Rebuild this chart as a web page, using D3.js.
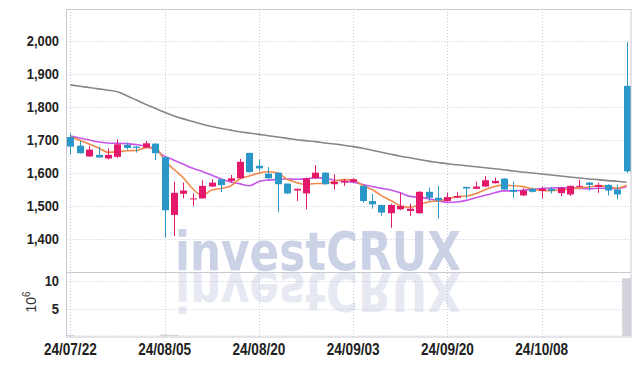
<!DOCTYPE html>
<html>
<head>
<meta charset="utf-8">
<script src="https://cdn.jsdelivr.net/npm/d3@7"></script>
<style>
  html, body { margin: 0; padding: 0; background: #fff; }
  svg { display: block; }
  .tick-label { font-family: "Liberation Sans", Arial, sans-serif; font-weight: bold; fill: #222; }
</style>
</head>
<body>
<div id="chart"></div>
<script>
const width = 639;
const height = 366;

// trading days, 24/07/22 .. 24/10/22
const dates = [
  "24/07/22","24/07/23","24/07/24","24/07/25","24/07/26","24/07/29","24/07/30","24/07/31","24/08/01","24/08/02",
  "24/08/05","24/08/06","24/08/07","24/08/08","24/08/09","24/08/12","24/08/13","24/08/14","24/08/16","24/08/19",
  "24/08/20","24/08/21","24/08/22","24/08/23","24/08/26","24/08/27","24/08/28","24/08/29","24/08/30","24/09/02",
  "24/09/03","24/09/04","24/09/05","24/09/06","24/09/09","24/09/10","24/09/11","24/09/12","24/09/13","24/09/19",
  "24/09/20","24/09/23","24/09/24","24/09/25","24/09/26","24/09/27","24/09/30","24/10/02","24/10/04","24/10/07",
  "24/10/08","24/10/10","24/10/11","24/10/14","24/10/15","24/10/16","24/10/17","24/10/18","24/10/21","24/10/22"
];
const openP = [
  1709,1683,1650,1655,1644,1649,1685,1680,1677,1689,
  1648,1473,1537,1520,1523,1559,1581,1576,1584,1661,
  1622,1598,1601,1568,1547,1538,1584,1601,1566,1571,
  1573,1561,1515,1503,1478,1490,1485,1478,1543,1525,
  1515,1525,1558,1552,1559,1569,1583,1549,1532,1552,
  1546,1552,1539,1535,1558,1571,1558,1564,1550,1864
];
const highP = [
  1720,1697,1682,1680,1675,1702,1692,1682,1697,1690,
  1650,1574,1571,1538,1578,1581,1582,1594,1643,1661,
  1641,1618,1602,1568,1553,1586,1624,1602,1596,1582,
  1584,1562,1537,1504,1507,1540,1507,1545,1556,1561,
  1540,1542,1558,1574,1591,1586,1584,1574,1553,1556,
  1558,1558,1558,1562,1579,1573,1571,1566,1564,1996
];
const lowP = [
  1656,1659,1650,1647,1641,1646,1671,1662,1676,1639,
  1405,1409,1523,1500,1522,1557,1542,1571,1583,1601,
  1606,1583,1482,1536,1515,1490,1582,1565,1550,1561,
  1572,1510,1492,1470,1434,1488,1470,1477,1515,1462,
  1513,1524,1523,1551,1558,1568,1549,1525,1530,1541,
  1523,1538,1530,1530,1557,1547,1540,1532,1520,1600
];
const closeP = [
  1680,1660,1671,1647,1655,1687,1676,1676,1690,1660,
  1487,1540,1547,1523,1561,1571,1563,1584,1634,1603,
  1614,1584,1566,1538,1552,1584,1601,1566,1573,1576,
  1581,1515,1505,1480,1503,1500,1492,1543,1525,1517,
  1527,1530,1553,1559,1578,1576,1550,1543,1547,1543,
  1552,1546,1555,1561,1561,1564,1564,1547,1535,1605
];
// volume, millions
const volume = [
  0.2,0.05,0.04,0.04,0.03,0.05,0.03,0.03,0.03,0.05,
  0.25,0.2,0.06,0.04,0.05,0.04,0.04,0.03,0.05,0.06,
  0.04,0.04,0.05,0.04,0.03,0.05,0.04,0.04,0.03,0.03,
  0.03,0.05,0.04,0.05,0.05,0.03,0.03,0.05,0.04,0.04,
  0.03,0.03,0.03,0.03,0.04,0.03,0.04,0.03,0.03,0.03,
  0.03,0.03,0.03,0.04,0.03,0.03,0.03,0.03,0.04,10.55
];
const ma5 = [
  1710,1699,1688,1676,1662.6,1664,1667.2,1668.2,1676.8,1677.8,
  1637.8,1610.6,1584.8,1551.4,1531.6,1548.4,1553,1560.4,1582.6,1591,
  1599.6,1603.8,1600.2,1581,1570.8,1564.8,1568.2,1568.2,1575.2,1580,
  1579.4,1562.2,1550,1531.4,1516.8,1500.6,1496,1503.6,1512.6,1515.4,
  1520.8,1528.4,1530.4,1537.2,1549.4,1559.2,1563.2,1561.2,1558.8,1551.8,
  1547,1546.2,1548.6,1551.4,1555,1557.4,1561,1559.4,1554.2,1563
];
const ma10 = [
  1712,1706,1700,1694,1691,1690,1689,1686,1681,1670.2,
  1650.9,1638.9,1626.5,1614.1,1604.7,1593.1,1581.8,1572.6,1567,1561.3,
  1574,1578.4,1580.3,1581.8,1580.9,1582.2,1586,1584.2,1578.1,1575.4,
  1572.1,1565.2,1559.1,1553.3,1548.4,1540,1529.1,1526.8,1522,1516.1,
  1510.7,1512.2,1517,1524.9,1532.4,1540,1545.8,1545.8,1548,1550.6,
  1553.1,1554.7,1554.9,1555.1,1553.4,1552.2,1553.6,1554,1552.8,1559
];
const maLong = [
  1867,1863,1859,1855,1851,1846,1834,1821,1808,1796,
  1784,1773,1764,1756,1748,1741,1735,1730,1725,1721,
  1717,1713,1709,1705,1701,1698,1695,1691,1688,1684,
  1680,1675,1669,1663,1657,1651,1646,1641,1636,1632,
  1628,1625,1622,1619,1616,1613,1610,1606,1603,1600,
  1597,1594,1591,1588,1585,1582,1580,1577,1575,1572
];
const priceTicks = [1400, 1500, 1600, 1700, 1800, 1900, 2000];
const volTicks = [5, 10];
const dateTickIdx = [0, 10, 20, 30, 40, 50];

const upColor = "#e5196b";
const downColor = "#2b97c8";
const gridColor = "#c4c8dc";

const plotLeft = 66.5, plotRight = 631;
const priceTop = 9, priceBottom = 272;
const volTop = 272, volBottom = 337;

const svg = d3.select("#chart").append("svg")
    .attr("width", width)
    .attr("height", height);

const idx = d3.range(dates.length);

const x = d3.scaleBand()
    .domain(idx)
    .range([65.6, 631.3])
    .padding(0);

const y = d3.scaleLinear()
    .domain([1300, 2100])
    .range([272, 8]);

const yv = d3.scaleLinear()
    .domain([0, 11.7])
    .range([336, 272]);

const cx = i => x(i) + x.bandwidth() / 2;

// clip for the plot
svg.append("defs").append("clipPath").attr("id", "plotClip")
  .append("rect")
    .attr("x", plotLeft).attr("y", priceTop)
    .attr("width", plotRight - plotLeft).attr("height", volBottom - priceTop);

// watermark + reflection
const wm = svg.append("g").attr("clip-path", "url(#plotClip)");
[["translate(0,0)", "#ccd2e6"], ["translate(0,543) scale(1,-1)", "#e6e8f2"]].forEach(([tf, col]) => {
  wm.append("text")
      .attr("x", 175).attr("y", 270)
      .attr("transform", tf)
      .attr("font-family", "DejaVu Sans, sans-serif")
      .attr("font-weight", "bold")
      .attr("font-size", 53)
      .attr("textLength", 286)
      .attr("lengthAdjust", "spacingAndGlyphs")
      .attr("fill", col)
      .text("investCRUX");
});

// grid
const grid = svg.append("g")
    .attr("stroke", gridColor)
    .attr("stroke-width", 1)
    .attr("stroke-dasharray", "1,2");

grid.selectAll(".hp").data(priceTicks).join("line")
    .attr("x1", plotLeft).attr("x2", plotRight)
    .attr("y1", d => Math.round(y(d)) + 0.5).attr("y2", d => Math.round(y(d)) + 0.5);

grid.selectAll(".hv").data(volTicks).join("line")
    .attr("x1", plotLeft).attr("x2", plotRight)
    .attr("y1", d => Math.round(yv(d)) + 0.5).attr("y2", d => Math.round(yv(d)) + 0.5);

grid.selectAll(".vx").data(dateTickIdx).join("line")
    .attr("x1", d => Math.round(cx(d)) + 0.5).attr("x2", d => Math.round(cx(d)) + 0.5)
    .attr("y1", priceTop).attr("y2", volBottom);

// volume bars
svg.append("g").attr("clip-path", "url(#plotClip)")
  .selectAll("rect").data(idx).join("rect")
    .attr("x", i => x(i) + 0.3)
    .attr("width", x.bandwidth() - 0.6)
    .attr("y", i => yv(volume[i]))
    .attr("height", i => yv(0) - yv(volume[i]))
    .attr("fill", "#d2d2da");

// moving averages
const lineGen = arr => d3.line()
    .x(i => cx(i))
    .y(i => y(arr[i]))
    .curve(d3.curveMonotoneX)(idx);

const lines = svg.append("g").attr("clip-path", "url(#plotClip)").attr("fill", "none");
lines.append("path").attr("d", lineGen(maLong)).attr("stroke", "#868686").attr("stroke-width", 1.6);
lines.append("path").attr("d", lineGen(ma10)).attr("stroke", "#c657ea").attr("stroke-width", 1.6);
lines.append("path").attr("d", lineGen(ma5)).attr("stroke", "#f08a4d").attr("stroke-width", 1.6);

// candles
const bodyW = 7;
const candles = svg.append("g").attr("clip-path", "url(#plotClip)")
  .selectAll("g").data(idx).join("g")
    .attr("fill", i => closeP[i] >= openP[i] ? upColor : downColor)
    .attr("stroke", i => closeP[i] >= openP[i] ? upColor : downColor);

candles.append("line")
    .attr("x1", i => Math.round(cx(i)) + 0.5).attr("x2", i => Math.round(cx(i)) + 0.5)
    .attr("y1", i => y(highP[i])).attr("y2", i => y(lowP[i]))
    .attr("stroke-width", 1);

candles.append("rect")
    .attr("x", i => Math.round(cx(i)) + 0.5 - bodyW / 2)
    .attr("width", bodyW)
    .attr("y", i => y(Math.max(openP[i], closeP[i])))
    .attr("height", i => Math.max(1, y(Math.min(openP[i], closeP[i])) - y(Math.max(openP[i], closeP[i]))))
    .attr("stroke", "none");

// frame
const frame = svg.append("g").attr("stroke", "#c9c9d2").attr("stroke-width", 1).attr("fill", "none");
frame.append("rect")
    .attr("x", plotLeft).attr("y", priceTop + 0.5)
    .attr("width", plotRight - plotLeft).attr("height", volBottom - priceTop - 0.5);
frame.append("line")
    .attr("x1", plotLeft).attr("x2", plotRight)
    .attr("y1", priceBottom + 0.5).attr("y2", priceBottom + 0.5);

// axis labels (condensed by a horizontal scale)
const squeeze = 0.86;
svg.append("g").selectAll("text").data(priceTicks).join("text")
    .attr("class", "tick-label")
    .attr("transform", d => `translate(59,${y(d) + 1}) scale(${squeeze},1)`)
    .attr("text-anchor", "end")
    .attr("dominant-baseline", "middle")
    .attr("font-size", 15)
    .text(d3.format(","));

svg.append("g").selectAll("text").data(volTicks).join("text")
    .attr("class", "tick-label")
    .attr("transform", d => `translate(59,${yv(d) + 1}) scale(${squeeze},1)`)
    .attr("text-anchor", "end")
    .attr("dominant-baseline", "middle")
    .attr("font-size", 15)
    .text(d => d);

const unit = svg.append("text")
    .attr("transform", "translate(36,302) rotate(-90)")
    .attr("text-anchor", "middle")
    .attr("font-family", "Liberation Sans, Arial, sans-serif")
    .attr("font-size", 14)
    .attr("fill", "#333");
unit.append("tspan").text("10");
unit.append("tspan").attr("font-size", 10).attr("dy", -6).text("6");

svg.append("g").selectAll("text").data(dateTickIdx).join("text")
    .attr("class", "tick-label")
    .attr("transform", d => `translate(${cx(d)},355) scale(0.85,1)`)
    .attr("text-anchor", "middle")
    .attr("font-size", 16)
    .text(d => dates[d]);
</script>
</body>
</html>
